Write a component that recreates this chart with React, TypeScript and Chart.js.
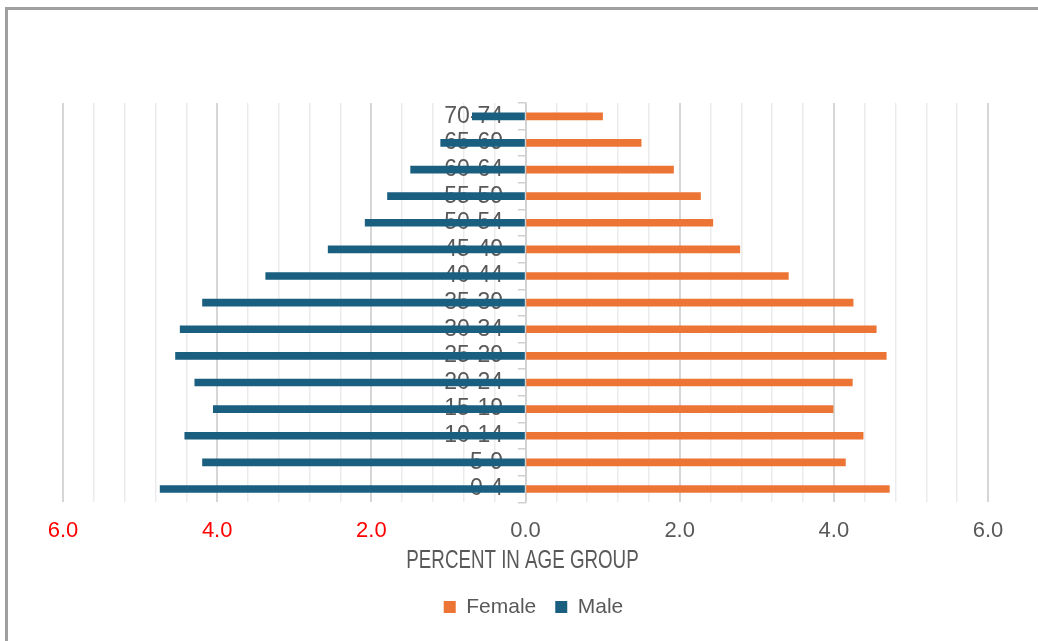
import React, { useEffect, useRef } from 'react';
import { Chart, registerables } from 'chart.js';

Chart.register(...registerables);

// Age groups, youngest first (drawn bottom-up)
const ageGroups = [
  '0-4', '5-9', '10-14', '15-19', '20-24', '25-29', '30-34', '35-39',
  '40-44', '45-49', '50-54', '55-59', '60-64', '65-69', '70-74',
];

// Share of the population in each age group (%)
const femalePercent = [4.72, 4.15, 4.38, 3.99, 4.24, 4.68, 4.55, 4.25, 3.41, 2.78, 2.43, 2.27, 1.92, 1.5, 1.0];
const malePercent = [4.74, 4.19, 4.42, 4.05, 4.29, 4.54, 4.48, 4.19, 3.37, 2.56, 2.08, 1.79, 1.49, 1.1, 0.69];

// Labelled positions on the percent axis; minor grid lines fall every 0.4
const majorTicks = [-6, -4, -2, 0, 2, 4, 6];
const minorStep = 0.4;

const axisTitle = 'PERCENT IN AGE GROUP';

const FEMALE = '#ec7535';
const MALE = '#1a5e80';
const TEXT = '#595959';
const FRAME = '#a0a0a0';
const FONT = "'Liberation Sans', Arial, sans-serif";

const isMajor = (v: number) => majorTicks.some((t) => Math.abs(t - v) < 1e-6);

// Grey frame along the top and left edge of the canvas
const framePlugin = {
  id: 'frame',
  beforeDraw(chart: any) {
    const { ctx, width, height } = chart;
    ctx.save();
    ctx.fillStyle = FRAME;
    ctx.fillRect(5, 7, width - 5, 3);
    ctx.fillRect(5, 7, 3, height - 7);
    ctx.restore();
  },
};

// Condensed axis title under the percent labels
const axisTitlePlugin = {
  id: 'condensedAxisTitle',
  afterDraw(chart: any) {
    const xs = chart.scales.x;
    const { ctx } = chart;
    ctx.save();
    ctx.font = `25px ${FONT}`;
    ctx.fillStyle = TEXT;
    ctx.textAlign = 'center';
    ctx.textBaseline = 'middle';
    ctx.translate((xs.left + xs.right) / 2 - 3, xs.bottom - 16);
    ctx.scale(0.75, 1);
    ctx.fillText(axisTitle, 0, 0);
    ctx.restore();
  },
};

// Nudge the centred legend row slightly to the right
const legendShiftPlugin = {
  id: 'legendShift',
  afterLayout(chart: any) {
    if (chart.legend) {
      chart.legend.left += 8;
      chart.legend.right += 8;
    }
  },
};

export default function App() {
  const canvasRef = useRef<HTMLCanvasElement | null>(null);

  useEffect(() => {
    const canvas = canvasRef.current;
    if (!canvas) return;
    const chart = new Chart(canvas, {
      type: 'bar',
      data: {
        labels: ageGroups,
        datasets: [
          { label: 'Female', data: femalePercent, backgroundColor: FEMALE, barThickness: 7, yAxisID: 'y' },
          { label: 'Male', data: malePercent.map((v) => -v), backgroundColor: MALE, barThickness: 7, yAxisID: 'y' },
        ],
      },
      options: {
        indexAxis: 'y',
        responsive: false,
        animation: false,
        layout: { padding: { left: 63, right: 50, top: 103, bottom: 13.5 } },
        scales: {
          x: {
            stacked: true,
            min: majorTicks[0],
            max: majorTicks[majorTicks.length - 1],
            border: { display: false },
            grid: {
              drawTicks: true,
              tickLength: 13,
              tickColor: 'rgba(0,0,0,0)',
              color: (ctx: any) => (ctx.tick && isMajor(ctx.tick.value) ? '#d6d6d6' : '#ebebeb'),
              lineWidth: (ctx: any) => (ctx.tick && isMajor(ctx.tick.value) ? 2 : 1.5),
            },
            ticks: {
              stepSize: minorStep,
              autoSkip: false,
              maxRotation: 0,
              padding: 2.5,
              color: (ctx: any) => (ctx.tick && ctx.tick.value < 0 ? '#ff0000' : TEXT),
              font: { family: FONT, size: 22 },
              callback: (v: any) => (isMajor(Number(v)) ? Math.abs(Number(v)).toFixed(1) : ''),
            },
            title: { display: false },
            afterFit: (scale: any) => {
              scale.height += 30.8;
            },
          },
          // Axis line with tick marks at zero
          y: {
            stacked: true,
            reverse: true,
            position: { x: 0 } as any,
            z: 1,
            grid: { drawOnChartArea: false, tickLength: 7, color: '#d0d0d0', lineWidth: 1.5 },
            border: { color: '#d0d0d0', width: 1.5 },
            ticks: { display: false },
          },
          // Age-group labels just left of the zero line
          yAge: {
            type: 'category',
            axis: 'y',
            labels: ageGroups,
            reverse: true,
            offset: true,
            position: { x: -0.29 } as any,
            z: 2,
            grid: { display: false },
            border: { display: false },
            ticks: { autoSkip: false, color: TEXT, font: { family: FONT, size: 23 } },
          },
        } as any,
        plugins: {
          legend: {
            position: 'bottom',
            labels: {
              boxWidth: 12,
              boxHeight: 12,
              padding: 19,
              color: TEXT,
              font: { family: FONT, size: 21 },
            },
          },
          tooltip: { enabled: false },
        },
      },
      plugins: [framePlugin, axisTitlePlugin, legendShiftPlugin],
    });
    return () => chart.destroy();
  }, []);

  return (
    <canvas
      ref={canvasRef}
      width={1038}
      height={641}
      style={{ position: 'absolute', left: 0, top: 0, display: 'block' }}
    />
  );
}
